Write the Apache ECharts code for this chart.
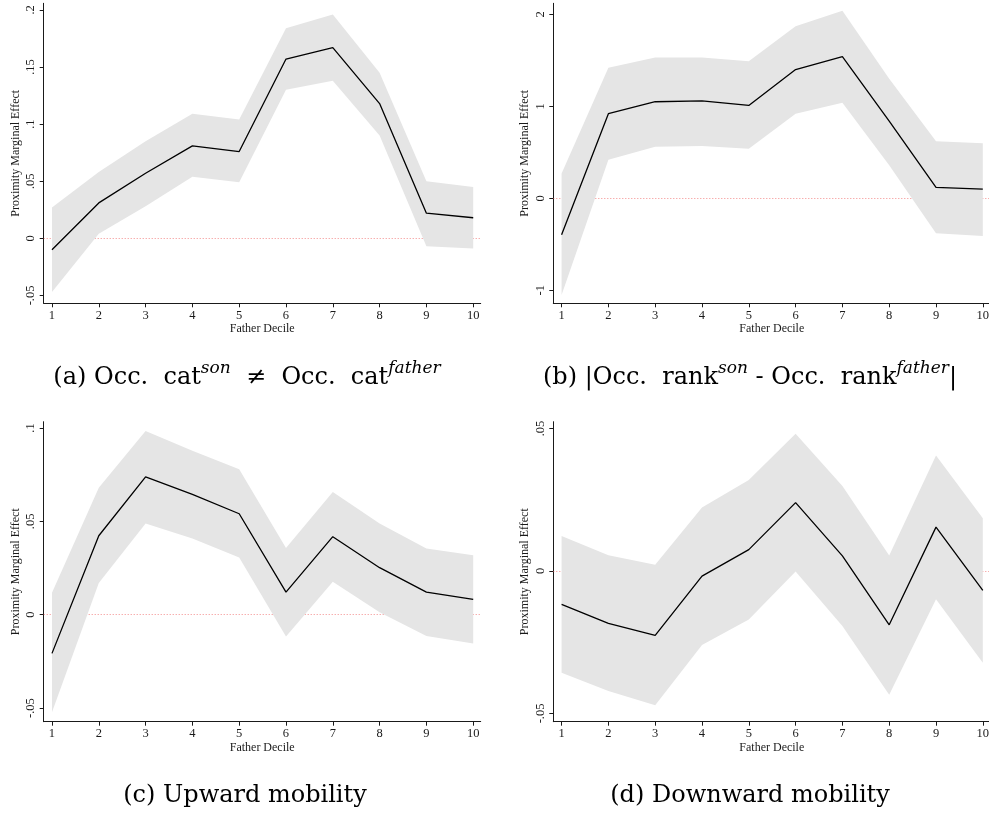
<!DOCTYPE html>
<html>
<head>
<meta charset="utf-8">
<script src="https://cdn.jsdelivr.net/npm/echarts@6/dist/echarts.min.js"></script>
<style>
  html, body { margin: 0; padding: 0; background: #fff; }
  #chart { width: 989px; height: 823px; }
</style>
</head>
<body>
<div id="chart"></div>
<script>
// Father decile on the horizontal axis of every panel
const deciles = [1, 2, 3, 4, 5, 6, 7, 8, 9, 10];

// (a) Occupational category differs from father's
const catEst = [-0.010, 0.031, 0.057, 0.081, 0.076, 0.157, 0.167, 0.118, 0.022, 0.018];
const catLo  = [-0.047, 0.004, 0.028, 0.054, 0.049, 0.130, 0.138, 0.090, -0.007, -0.009];
const catHi  = [0.027, 0.058, 0.085, 0.109, 0.104, 0.184, 0.196, 0.145, 0.050, 0.045];
const catTicks = [-0.05, 0, 0.05, 0.1, 0.15, 0.2];

// (b) Absolute gap in occupational rank
const rankEst = [-0.395, 0.92, 1.05, 1.06, 1.01, 1.40, 1.54, 0.84, 0.12, 0.10];
const rankLo  = [-1.05, 0.42, 0.56, 0.57, 0.54, 0.92, 1.04, 0.36, -0.38, -0.41];
const rankHi  = [0.27, 1.42, 1.53, 1.53, 1.49, 1.87, 2.04, 1.30, 0.62, 0.60];
const rankTicks = [-1, 0, 1, 2];

// (c) Upward mobility
const upEst = [-0.0207, 0.0423, 0.0738, 0.0645, 0.0541, 0.0121, 0.0418, 0.0252, 0.0121, 0.0082];
const upLo  = [-0.0523, 0.017, 0.0489, 0.0409, 0.0307, -0.0116, 0.0177, 0.0013, -0.0114, -0.0154];
const upHi  = [0.0118, 0.068, 0.0984, 0.0879, 0.0779, 0.0357, 0.0657, 0.0489, 0.0355, 0.0318];
const upTicks = [-0.05, 0, 0.05, 0.1];

// (d) Downward mobility
const downEst = [-0.0117, -0.0184, -0.0226, -0.0018, 0.0075, 0.0240, 0.0053, -0.0189, 0.0154, -0.0068];
const downLo  = [-0.0357, -0.0421, -0.0471, -0.0260, -0.0170, -0.0002, -0.0193, -0.0434, -0.0099, -0.0322];
const downHi  = [0.0123, 0.0055, 0.0022, 0.0223, 0.0319, 0.0482, 0.0298, 0.0054, 0.0405, 0.0185];
const downTicks = [-0.05, 0, 0.05];

const SERIF = '"Liberation Serif", "Times New Roman", serif';
const CAPTION_FONT = '"DejaVu Serif", serif';
const INK = '#1a1a1a';
const BAND = '#e5e5e5';

const panels = [
  { est: catEst,  lo: catLo,  hi: catHi,  ticks: catTicks,  yMin: -0.0569, yMax: 0.2058, left: 43.7,  top: 3.3 },
  { est: rankEst, lo: rankLo, hi: rankHi, ticks: rankTicks, yMin: -1.141,  yMax: 2.12,   left: 553.3, top: 3.3 },
  { est: upEst,   lo: upLo,   hi: upHi,   ticks: upTicks,   yMin: -0.0573, yMax: 0.1034, left: 43.7,  top: 421.7 },
  { est: downEst, lo: downLo, hi: downHi, ticks: downTicks, yMin: -0.0529, yMax: 0.0524, left: 553.3, top: 421.7 }
];

// Stata-style tick labels: drop the leading zero (".05", "-.05")
function stataNum(v) {
  if (v === 0) return '0';
  const s = String(Math.abs(v)).replace(/^0\./, '.');
  return (v < 0 ? '-' : '') + s;
}

// Confidence band drawn as one polygon: upper bound left-to-right, lower bound back
function renderBand(params, api) {
  if (params.dataIndexInside !== 0) return null;
  const n = params.dataInsideLength;
  const upper = [], lower = [];
  for (let k = 0; k < n; k++) {
    const x = api.value(0, k);
    upper.push(api.coord([x, api.value(2, k)]));
    lower.push(api.coord([x, api.value(1, k)]));
  }
  return {
    type: 'polygon',
    shape: { points: upper.concat(lower.reverse()) },
    style: { fill: BAND, stroke: null },
    silent: true
  };
}

const grid = [], xAxis = [], yAxis = [], series = [];

panels.forEach((p, i) => {
  grid.push({ left: p.left, top: p.top, width: 437, height: 300, outerBoundsMode: 'none', containLabel: false });

  xAxis.push({
    type: 'value', gridIndex: i, min: 0.823, max: 10.16,
    name: 'Father Decile', nameLocation: 'middle', nameGap: 20,
    nameTextStyle: { fontFamily: SERIF, fontSize: 12, color: INK },
    axisLine: { show: true, onZero: false, lineStyle: { color: INK, width: 1 } },
    axisTick: { show: true, length: 4, customValues: deciles, lineStyle: { color: INK } },
    axisLabel: { customValues: deciles, margin: 6, fontFamily: SERIF, fontSize: 12.5, color: INK },
    splitLine: { show: false }
  });

  yAxis.push({
    type: 'value', gridIndex: i, min: p.yMin, max: p.yMax,
    name: 'Proximity Marginal Effect', nameLocation: 'middle', nameGap: 22, nameRotate: 90,
    nameTextStyle: { fontFamily: SERIF, fontSize: 12, color: INK },
    axisLine: { show: true, onZero: false, lineStyle: { color: INK, width: 1 } },
    axisTick: { show: true, length: 4, customValues: p.ticks, lineStyle: { color: INK } },
    axisLabel: { customValues: p.ticks, rotate: 90, margin: 6, fontFamily: SERIF, fontSize: 12.5, color: INK,
                 formatter: stataNum },
    splitLine: { show: false }
  });

  // 95% band between lower and upper bounds, with the zero reference line beneath it
  series.push({
    type: 'custom', xAxisIndex: i, yAxisIndex: i,
    data: deciles.map((d, k) => [d, p.lo[k], p.hi[k]]),
    encode: { x: 0, y: [1, 2] },
    renderItem: renderBand, silent: true, z: 2,
    markLine: {
      silent: true, symbol: 'none', z: 1, label: { show: false },
      lineStyle: { color: 'rgba(240, 90, 90, 0.7)', type: [1, 2], width: 1 },
      data: [{ yAxis: 0 }]
    }
  });
  // point estimate
  series.push({
    type: 'line', xAxisIndex: i, yAxisIndex: i,
    data: deciles.map((d, k) => [d, p.est[k]]),
    symbol: 'none', lineStyle: { color: '#000', width: 1.3 }, z: 3
  });
});

// Sub-figure captions, with italic superscripts (wide spacing as in the typeset text)
const captions = [
  { cx: 247, base: 385, parts: [['(a) Occ.  cat', 0], ['son', 1], ['  \u2260  Occ.  cat', 0], ['father', 1]] },
  { cx: 750, base: 385, parts: [['(b) |Occ.  rank', 0], ['son', 1], [' - Occ.  rank', 0], ['father', 1], ['|', 0]] },
  { cx: 245, base: 803, parts: [['(c) Upward mobility', 0]] },
  { cx: 750, base: 803, parts: [['(d) Downward mobility', 0]] }
];
const MAIN_SIZE = 24, SUP_SIZE = 17, SUP_RAISE = 10.5;
const measureCtx = document.createElement('canvas').getContext('2d');
function fontOf(sup) {
  return (sup ? 'italic ' : '') + (sup ? SUP_SIZE : MAIN_SIZE) + 'px ' + CAPTION_FONT;
}
const graphic = [];
captions.forEach(c => {
  const widths = c.parts.map(([t, sup]) => { measureCtx.font = fontOf(sup); return measureCtx.measureText(t).width; });
  const total = widths.reduce((a, b) => a + b, 0);
  let x = c.cx - total / 2;
  c.parts.forEach(([t, sup], k) => {
    const size = sup ? SUP_SIZE : MAIN_SIZE;
    const baseline = c.base - (sup ? SUP_RAISE : 0);
    graphic.push({
      type: 'text', x: x, y: baseline - size * 0.32, silent: true,
      style: { text: t, fontFamily: CAPTION_FONT, fontSize: size, fontStyle: sup ? 'italic' : 'normal',
               fontWeight: 'normal', fill: '#000', align: 'left', verticalAlign: 'middle' }
    });
    x += widths[k];
  });
});

const chart = echarts.init(document.getElementById('chart'), null, { renderer: 'canvas' });
chart.setOption({
  animation: false,
  backgroundColor: '#fff',
  grid, xAxis, yAxis, series, graphic
});
</script>
</body>
</html>
